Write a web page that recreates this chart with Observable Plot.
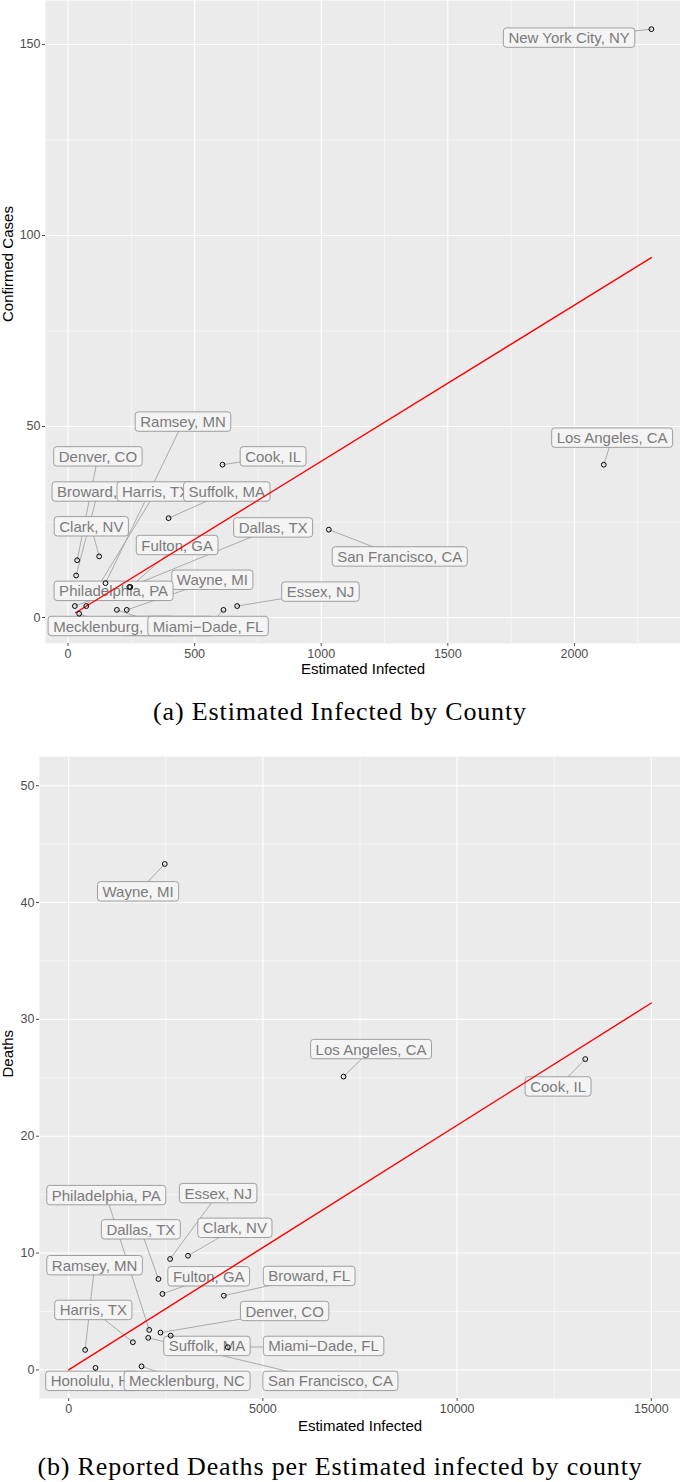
<!DOCTYPE html>
<html><head><meta charset="utf-8">
<script src="https://cdn.jsdelivr.net/npm/d3@7"></script>
<script src="https://cdn.jsdelivr.net/npm/@observablehq/plot@0.6"></script>
<style>
body{margin:0;background:#fff;width:680px;height:1482px;position:relative;overflow:hidden;font-family:"Liberation Sans",Arial,sans-serif}
.cap{position:absolute;left:0;width:680px;text-align:center;font-family:"Liberation Serif","DejaVu Serif",serif;font-size:26px;letter-spacing:0.85px;color:#000;line-height:30px;white-space:nowrap}
#a{position:absolute;left:0;top:0}
#b{position:absolute;left:0;top:740px}
</style></head><body>
<div id="a"></div>
<div class="cap" id="capA" style="top:697px"></div>
<div id="b"></div>
<div class="cap" id="capB" style="top:1452px"></div>
<script>
// ---------- Panel (a): Confirmed cases vs estimated infected ----------
const countiesA = ["New York City, NY","Los Angeles, CA","Cook, IL","Ramsey, MN","Denver, CO","Broward, FL","Harris, TX","Suffolk, MA","Clark, NV","Dallas, TX","Fulton, GA","San Francisco, CA","Wayne, MI","Philadelphia, PA","Essex, NJ","Honolulu, HI","Mecklenburg, NC","Miami\u2212Dade, FL"];
const estInfectedA = [2304, 2116, 610, 148, 36, 32, 72, 397, 123, 242, 246, 1030, 232, 27, 668, 193, 44, 614];
const confirmedA   = [154, 40, 40, 9, 15, 11, 3, 26, 16, 8, 8, 23, 2, 3, 3, 2, 1, 2];
const labelXA = [1979, 2149, 810, 454, 118, 118, 346, 627, 92, 810, 431, 1310, 570, 180, 997, 390, 170, 553];
const labelYA = [151.6, 46.9, 42, 51.1, 42, 32.8, 32.8, 32.8, 23.7, 23.4, 18.8, 15.8, 9.7, 6.8, 6.6, -2.4, -2.4, -2.4];
const fitXA = [30, 2304];
const fitYA = [1.25, 94.2];
const xTicksA = [0, 500, 1000, 1500, 2000];
const xMinorA = [250, 750, 1250, 1750, 2250];
const yTicksA = [0, 50, 100, 150];
const yMinorA = [25, 75, 125];

// ---------- Panel (b): Deaths vs estimated infected ----------
const countiesB = ["Wayne, MI","Los Angeles, CA","Cook, IL","Philadelphia, PA","Essex, NJ","Dallas, TX","Clark, NV","Ramsey, MN","Fulton, GA","Broward, FL","Harris, TX","Denver, CO","Suffolk, MA","Miami\u2212Dade, FL","Honolulu, HI","Mecklenburg, NC","San Francisco, CA"];
const estInfectedB = [2474, 7076, 13298, 2074, 2612, 2312, 3073, 425, 2415, 3995, 1654, 2364, 2627, 4097, 691, 1877, 2049];
const deathsB      = [43.3, 25.1, 26.6, 3.42, 9.49, 7.78, 9.77, 1.71, 6.5, 6.35, 2.37, 3.19, 2.93, 1.94, 0.17, 0.3, 2.74];
const labelXB = [1787, 7785, 12599, 968, 3849, 1859, 4279, 668, 3606, 6192, 635, 5560, 3560, 6563, 600, 3047, 6738];
const labelYB = [40.9, 27.4, 24.2, 14.9, 15.07, 11.97, 12.1, 8.9, 7.95, 7.98, 5.07, 4.98, 1.99, 1.99, -1.0, -1.0, -1.0];
const fitXB = [0, 15000];
const fitYB = [0, 31.4];
const xTicksB = [0, 5000, 10000, 15000];
const xMinorB = [2500, 7500, 12500];
const yTicksB = [0, 10, 20, 30, 40, 50];
const yMinorB = [5, 15, 25, 35, 45];

const xTitle = "Estimated Infected";
const yTitleA = "Confirmed Cases";
const yTitleB = "Deaths";
const captionA = "(a) Estimated Infected by County";
const captionB = "(b) Reported Deaths per Estimated infected by county";

const LABEL_COLOR = "#7b7b7b";

function panel(o) {
  const pts = o.counties.map((c, i) => ({c, x: o.xs[i], y: o.ys[i], lx: o.lx[i], ly: o.ly[i]}));
  const fit = o.fitX.map((x, i) => ({x, y: o.fitY[i]}));
  return Plot.plot({
    width: 680, height: o.height,
    marginTop: o.mt, marginBottom: o.mb, marginLeft: o.ml, marginRight: 0,
    style: {fontFamily: "'Liberation Sans', Arial, sans-serif", background: "white", overflow: "visible"},
    x: {domain: o.xDomain},
    y: {domain: o.yDomain},
    marks: [
      Plot.frame({fill: "#EBEBEB", stroke: null}),
      Plot.ruleX(o.xMinor, {stroke: "white", strokeWidth: 0.55}),
      Plot.ruleY(o.yMinor, {stroke: "white", strokeWidth: 0.55}),
      Plot.ruleX(o.xTicks, {stroke: "white", strokeWidth: 1.1}),
      Plot.ruleY(o.yTicks, {stroke: "white", strokeWidth: 1.1}),
      Plot.axisX(o.xTicks, {tickSize: 3, tickPadding: 3, fontSize: 12.5, color: "#4D4D4D", tickFormat: d => String(d), label: null}),
      Plot.axisY(o.yTicks, {tickSize: 3, tickPadding: 2, fontSize: 12.5, color: "#4D4D4D", tickFormat: d => String(d), label: null}),
      Plot.text([xTitle], {frameAnchor: "bottom", dy: o.xtdy, fontSize: 15, fill: "black", text: d => d}),
      Plot.text([o.yTitle], {frameAnchor: "left", rotate: -90, dx: o.ytdx, fontSize: 15, fill: "black", text: d => d}),
      Plot.link(pts, {x1: "x", y1: "y", x2: "lx", y2: "ly", stroke: "#a3a3a3", strokeWidth: 0.9}),
      Plot.text(pts, {x: "lx", y: "ly", text: "c", fill: LABEL_COLOR, fontSize: 15}),
      Plot.line(fit, {x: "x", y: "y", stroke: "red", strokeWidth: 1.4}),
      Plot.dot(pts, {x: "x", y: "y", r: 2.4, stroke: "black", strokeWidth: 1, fill: "none"})
    ]
  });
}

function boxLabels(svg) {
  const texts = svg.querySelectorAll('g[fill="' + LABEL_COLOR + '"] text');
  texts.forEach(t => {
    const bb = t.getBBox();
    const r = document.createElementNS("http://www.w3.org/2000/svg", "rect");
    r.setAttribute("x", bb.x - 5);
    r.setAttribute("y", bb.y - 1.2);
    r.setAttribute("width", bb.width + 10);
    r.setAttribute("height", bb.height + 2.4);
    r.setAttribute("rx", 3);
    r.setAttribute("fill", "#F4F4F4");
    r.setAttribute("stroke", "#8a8a8a");
    r.setAttribute("stroke-width", 0.8);
    const tr = t.getAttribute("transform");
    if (tr) r.setAttribute("transform", tr);
    t.parentNode.insertBefore(r, t);
  });
}

const chartA = panel({
  counties: countiesA, xs: estInfectedA, ys: confirmedA, lx: labelXA, ly: labelYA,
  fitX: fitXA, fitY: fitYA, xTicks: xTicksA, xMinor: xMinorA, yTicks: yTicksA, yMinor: yMinorA,
  xDomain: [-89, 2419], yDomain: [-6.8, 161.5],
  height: 690, mt: 0, mb: 47, ml: 45, yTitle: yTitleA, ytdx: -37, xtdy: 30
});
document.getElementById("a").appendChild(chartA);
boxLabels(chartA);

const chartB = panel({
  counties: countiesB, xs: estInfectedB, ys: deathsB, lx: labelXB, ly: labelYB,
  fitX: fitXB, fitY: fitYB, xTicks: xTicksB, xMinor: xMinorB, yTicks: yTicksB, yMinor: yMinorB,
  xDomain: [-750, 15750], yDomain: [-2.45, 52.5],
  height: 700, mt: 16, mb: 42, ml: 39, yTitle: yTitleB, ytdx: -31, xtdy: 32
});
document.getElementById("b").appendChild(chartB);
boxLabels(chartB);

document.getElementById("capA").textContent = captionA;
document.getElementById("capB").textContent = captionB;
</script>
</body></html>
